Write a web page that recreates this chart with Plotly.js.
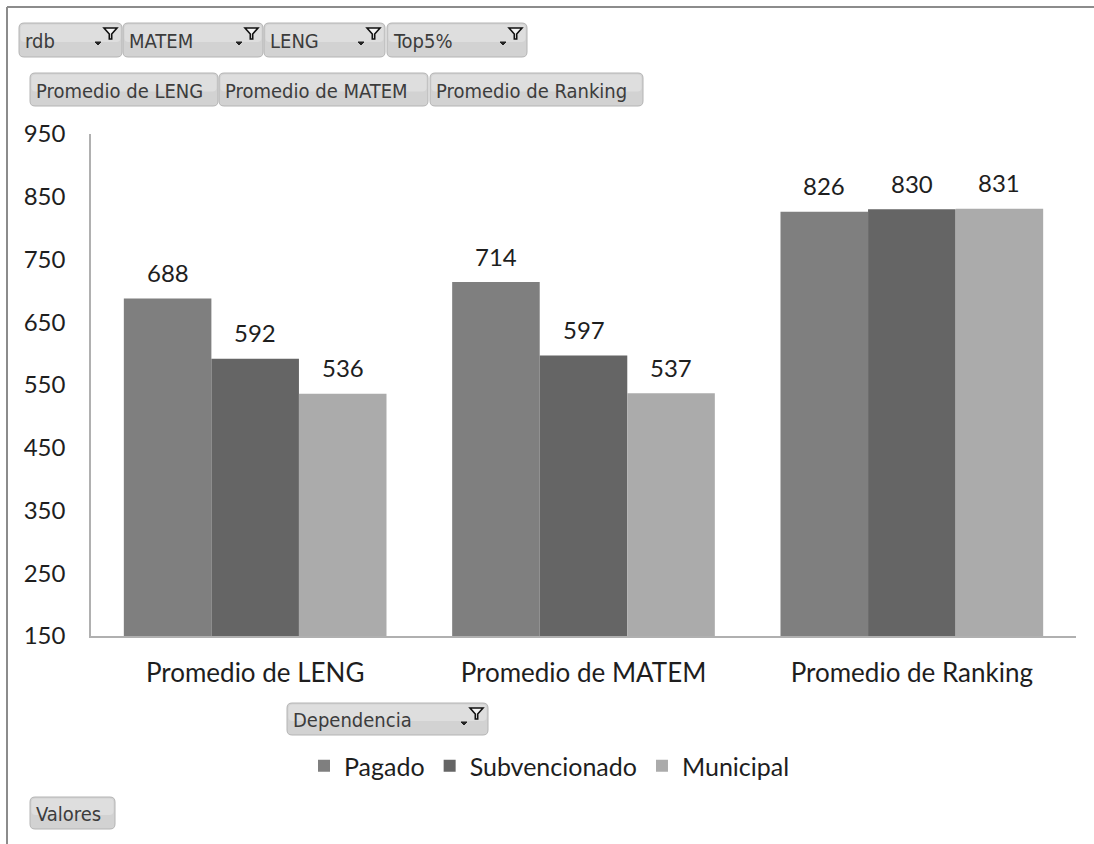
<!DOCTYPE html>
<html>
<head>
<meta charset="utf-8">
<script src="https://cdn.plot.ly/plotly-3.0.1.min.js"></script>
<style>
  html, body { margin: 0; padding: 0; background: #ffffff; }
  #chart { width: 1094px; height: 844px; }
</style>
</head>
<body>
<div id="chart"></div>
<script>
// ---- data ----
const categories = ['Promedio de LENG', 'Promedio de MATEM', 'Promedio de Ranking'];
const seriesNames = ['Pagado', 'Subvencionado', 'Municipal'];
const pagado = [688, 714, 826];
const subvencionado = [592, 597, 830];
const municipal = [536, 537, 831];
const yTickValues = [150, 250, 350, 450, 550, 650, 750, 850, 950];
const filterFields = ['rdb', 'MATEM', 'LENG', 'Top5%'];
const valueFields = ['Promedio de LENG', 'Promedio de MATEM', 'Promedio de Ranking'];
const legendField = 'Dependencia';
const valuesField = 'Valores';

// ---- layout geometry ----
const W = 1094, H = 844;
const M = {l: 91, r: 18, t: 134, b: 208};
const PW = W - M.l - M.r, PH = H - M.t - M.b;
const px = x => (x - M.l) / PW;
const py = y => (H - M.b - y) / PH;

const colors = ['#7f7f7f', '#656565', '#ababab'];
const seriesValues = [pagado, subvencionado, municipal];
const chartFont = 'Lato, "Open Sans", sans-serif';
const btnFont = '"DejaVu Sans Condensed", "DejaVu Sans", sans-serif';

const traces = seriesNames.map((name, i) => ({
  type: 'bar',
  name: name,
  x: categories,
  y: seriesValues[i],
  marker: {color: colors[i], line: {width: 0}},
  hoverinfo: 'x+y+name'
}));

const shapes = [];
const annotations = [];

// frame
shapes.push({type: 'line', xref: 'paper', yref: 'paper', x0: px(7), x1: px(W + 2), y0: py(7), y1: py(7), line: {color: '#8c8c8c', width: 2}});
shapes.push({type: 'line', xref: 'paper', yref: 'paper', x0: px(7), x1: px(7), y0: py(7), y1: py(H + 2), line: {color: '#8c8c8c', width: 2}});

function roundRect(x0, y0, x1, y1, r) {
  const rx = r / PW, ry = r / PH;
  const X0 = px(x0), X1 = px(x1), Y0 = py(y0), Y1 = py(y1);
  return `M${X0 + rx},${Y0} L${X1 - rx},${Y0} Q${X1},${Y0} ${X1},${Y0 - ry} ` +
         `L${X1},${Y1 + ry} Q${X1},${Y1} ${X1 - rx},${Y1} L${X0 + rx},${Y1} ` +
         `Q${X0},${Y1} ${X0},${Y1 + ry} L${X0},${Y0 - ry} Q${X0},${Y0} ${X0 + rx},${Y0} Z`;
}

function button(label, x0, y0, x1, y1, withFilter) {
  shapes.push({type: 'path', xref: 'paper', yref: 'paper', path: roundRect(x0, y0, x1, y1, 5),
    fillcolor: '#d2d2d2', line: {color: '#b4b4b4', width: 1}, layer: 'above'});
  shapes.push({type: 'path', xref: 'paper', yref: 'paper', path: roundRect(x0 + 1.5, y0 + 1.5, x1 - 1.5, (y0 + y1) / 2 + 2, 4),
    fillcolor: '#dedede', line: {width: 0}, layer: 'above'});
  annotations.push({xref: 'paper', yref: 'paper', x: px(x0 + 4), y: py((y0 + y1) / 2 + 1),
    xanchor: 'left', yanchor: 'middle', showarrow: false, text: label,
    font: {family: btnFont, size: 20, color: '#3c3c3c'}});
  if (withFilter) {
    const fx0 = x1 - 18, fx1 = x1 - 5, fyT = y0 + 5, fyM = y0 + 11, fyB = y0 + 16;
    const fxm = (fx0 + fx1) / 2;
    shapes.push({type: 'path', xref: 'paper', yref: 'paper', layer: 'above',
      path: `M${px(fx0)},${py(fyT)} L${px(fx1)},${py(fyT)} L${px(fxm + 1.2)},${py(fyM)} L${px(fxm + 1.2)},${py(fyB)} L${px(fxm - 1.2)},${py(fyB)} L${px(fxm - 1.2)},${py(fyM)} Z`,
      fillcolor: '#f4f4f4', line: {color: '#111111', width: 1.6}});
    const ax = x1 - 24, ay = y0 + 19;
    shapes.push({type: 'path', xref: 'paper', yref: 'paper', layer: 'above',
      path: `M${px(ax - 3)},${py(ay)} L${px(ax + 3)},${py(ay)} L${px(ax)},${py(ay + 3)} Z`,
      fillcolor: '#222222', line: {color: '#222222', width: 1}});
  }
}

const row1 = [[19, 122], [123, 263], [264, 385], [387, 527]];
filterFields.forEach((f, i) => button(f, row1[i][0], 23, row1[i][1], 57, true));
const row2 = [[30, 218], [219, 428], [430, 643]];
valueFields.forEach((f, i) => button(f, row2[i][0], 73, row2[i][1], 106, false));
button(legendField, 287, 703, 488, 735, true);
button(valuesField, 30, 797, 115, 829, false);

// data labels from arrays
const barPx = PW / categories.length * 0.8 / seriesNames.length;
seriesNames.forEach((name, i) => {
  categories.forEach((c, j) => {
    annotations.push({x: c, y: seriesValues[i][j], xref: 'x', yref: 'y',
      xshift: (i - 1) * barPx, yshift: 26, yanchor: 'middle', xanchor: 'center',
      showarrow: false, text: String(seriesValues[i][j]),
      font: {family: chartFont, size: 24, color: '#1e1e1e'}});
  });
});

const layout = {
  width: W, height: H,
  margin: M,
  paper_bgcolor: '#ffffff', plot_bgcolor: '#ffffff',
  barmode: 'group', bargap: 0.2, bargroupgap: 0,
  font: {family: chartFont, color: '#1e1e1e'},
  showlegend: true,
  legend: {orientation: 'h', x: px(304), xanchor: 'left', y: py(766), yanchor: 'middle',
    font: {family: chartFont, size: 25, color: '#1e1e1e'}, itemwidth: 30,
    traceorder: 'normal'},
  xaxis: {
    type: 'category', showgrid: false, zeroline: false,
    showline: true, linecolor: '#b0b0b0', linewidth: 1.5,
    ticks: '', ticklabelstandoff: 13,
    tickfont: {family: chartFont, size: 26, color: '#1e1e1e'}
  },
  yaxis: {
    range: [150, 950], tickmode: 'array', tickvals: yTickValues,
    ticktext: yTickValues.map(String),
    showgrid: false, zeroline: false,
    showline: true, linecolor: '#b0b0b0', linewidth: 1.5,
    ticks: '', ticklabelstandoff: 19,
    tickfont: {family: chartFont, size: 24, color: '#1e1e1e'}
  },
  shapes: shapes,
  annotations: annotations
};

Plotly.newPlot('chart', traces, layout, {displayModeBar: false});
</script>
</body>
</html>
